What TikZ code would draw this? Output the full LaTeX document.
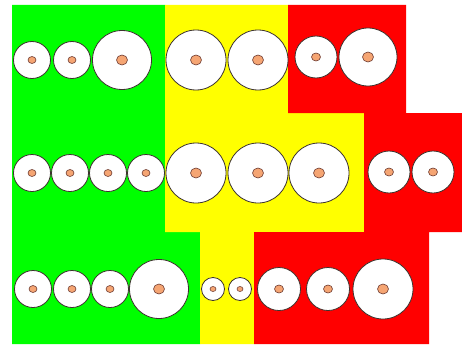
\documentclass[tikz,border=0pt]{standalone}
\usetikzlibrary{shapes.geometric}
\definecolor{zgreen}{RGB}{0,255,0}
\definecolor{zyellow}{RGB}{255,255,0}
\definecolor{zred}{RGB}{255,0,0}
\definecolor{corefill}{RGB}{245,165,115}
\definecolor{rim}{RGB}{60,50,45}
\definecolor{corerim}{RGB}{110,60,50}
\tikzset{
  zone/.style={draw=none},
  cable/.style={circle, draw=rim, line width=0.8pt, fill=white, inner sep=0pt, outer sep=0pt},
  core/.style={ellipse, draw=corerim, line width=0.6pt, fill=corefill, inner sep=0pt, outer sep=0pt}
}
\begin{document}
\begin{tikzpicture}[x=1pt,y=-1pt]
\useasboundingbox (0,0) rectangle (462,345);
\fill[white] (0,0) rectangle (462,345);
% zones
\fill[zgreen, zone] (12,5) -- (165,5) -- (165,232) -- (200,232) -- (200,344) -- (12,344) -- cycle;
\fill[zyellow, zone] (165,5) -- (288,5) -- (288,113) -- (364,113) -- (364,232) -- (254,232) -- (254,344) -- (200,344) -- (200,232) -- (165,232) -- cycle;
\fill[zred, zone] (288,5) -- (406,5) -- (406,113) -- (462,113) -- (462,232) -- (429,232) -- (429,344) -- (254,344) -- (254,232) -- (364,232) -- (364,113) -- (288,113) -- cycle;
% cables: x/y/radius/name/corewidth/coreheight
\foreach \x/\y/\r/\n/\w/\h in {
  32/60/18.5/a1/8/7, 72/60/18.5/a2/8/7, 122/60/29.5/a3/11/10,
  196/60/30/a4/11/10, 258/60/30/a5/11/10, 316/57/21/a6/9/8, 368/57/29/a7/11/10,
  32/173/18.5/b1/8/7, 70/173/18.5/b2/8/7, 108/173/18.5/b3/8/7, 146/173/18.5/b4/8/7,
  196/173/30/b5/11/10, 258/173/30/b6/11/10, 319/173/30/b7/11/10,
  389/172/21/b8/9/8, 433/172/21/b9/9/8,
  33/289/18.5/c1/8/7, 72/289/18.5/c2/8/7, 110/289/18.5/c3/8/7, 159/289/29.5/c4/11/10,
  213/289/11.5/c5/6/5, 240/289/11.5/c6/6/5,
  279/289/21.5/c7/9/8, 328/289/21.5/c8/9/8, 383/289/30/c9/11/10}
{
  \node[cable, minimum size=2*\r pt] (\n) at (\x,\y) {};
  \node[core, minimum width=\w pt, minimum height=\h pt] (\n core) at (\n.center) {};
}
\end{tikzpicture}
\end{document}
